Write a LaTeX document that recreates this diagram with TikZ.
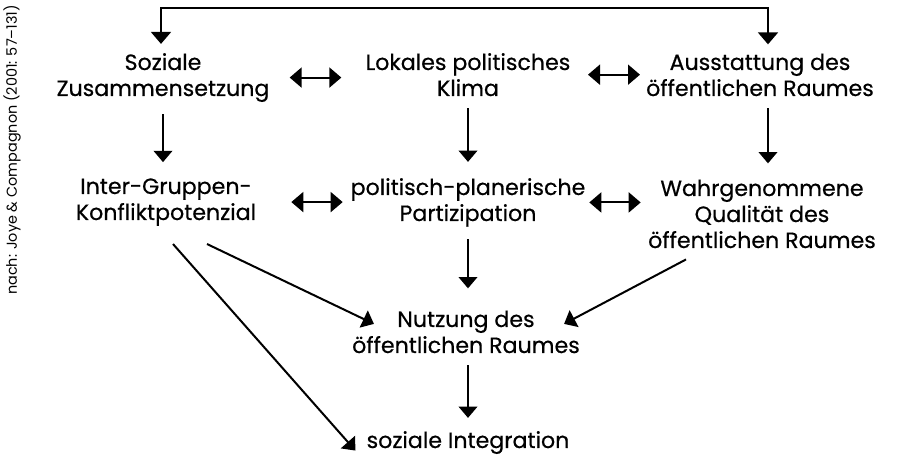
\documentclass[tikz,border=0pt]{standalone}
\usepackage{fontspec}
\setmainfont{Poppins}[FakeBold=0.5]
\newfontfamily\quellfont{Poppins}
\usetikzlibrary{arrows.meta, calc}

\begin{document}
\begin{tikzpicture}[
        x=0.75pt, y=-0.75pt,
        lbl/.style={align=center, inner sep=0pt, anchor=base,
                    font=\fontsize{16.6}{19.5}\selectfont},
        src/.style={inner sep=0pt, rotate=90, font=\quellfont\fontsize{10.8}{12}\selectfont},
        arr/.style={-{Triangle[length=8.5pt, width=14pt]}, line width=1.5pt},
        dbl/.style={{Triangle[length=9pt, width=15pt]}-{Triangle[length=9pt, width=15pt]},
                    line width=1.5pt},
        vert/.style={arr, shorten <=9pt, shorten >=12pt}
      ]
      \useasboundingbox (0,0) rectangle (897,459);
      \node[src] (quelle) at (12,150) {nach: Joye \& Compagnon (2001: 57–131)};
      % Knoten (Basislinie der letzten Zeile)
      \node[lbl] (soz) at (163,96) {Soziale\\Zusammensetzung};
      \node[lbl] (lok) at (468,96) {Lokales politisches\\Klima};
      \node[lbl] (aus) at (760,96) {Ausstattung des\\öffentlichen Raumes};
      \node[lbl] (igk) at (166,220) {Inter-Gruppen-\\Konfliktpotenzial};
      \node[lbl] (pol) at (468,221) {politisch-planerische\\Partizipation};
      \node[lbl] (wah) at (762,248) {Wahrgenommene\\Qualität des\\öffentlichen Raumes};
      \node[lbl] (nut) at (466,353) {Nutzung des\\öffentlichen Raumes};
      \node[lbl] (int) at (468,448) {soziale Integration};
      \coordinate (oben) at (465,8);
      % Rueckkopplung oben
      \draw[dbl, shorten <=6.75pt, shorten >=6.75pt]
            ([xshift=-1.5pt]soz.north) |- (oben) -| ([xshift=6pt]aus.north);
      % Wechselwirkungen
      \draw[dbl, shorten <=95pt, shorten >=95pt] (soz.center) -- (soz.center -| lok.center);
      \draw[dbl, shorten <=90pt, shorten >=90pt] (lok.center) -- (lok.center -| aus.center);
      \draw[dbl, shorten <=94pt, shorten >=94pt] (igk.center) -- (igk.center -| pol.center);
      \draw[dbl, shorten <=91pt, shorten >=91pt] (pol.center) -- (pol.center -| wah.center);
      % Wirkungen
      \draw[vert] (soz.south) -- (soz.south |- igk.north);
      \draw[vert] (lok.south) -- (lok.south |- pol.north);
      \draw[vert] ([xshift=6pt]aus.south) -- ([xshift=6pt]aus.south |- wah.north);
      \draw[vert, shorten >=16.5pt] (pol.south) -- (pol.south |- nut.north);
      \draw[vert, shorten >=9.75pt] ([xshift=1.5pt]nut.south) -- ([xshift=1.5pt]nut.south |- int.north);
      \draw[arr] ($(igk.south)+(41,18)$) -- ($(nut.west)+(22,-8)$);
      \draw[arr] ($(igk.south)+(7,18)$) -- ($(int.west)+(-11,8)$);
      \draw[arr] ($(wah.south)+(-76,11)$) -- ($(nut.east)+(-16,-8)$);
    \end{tikzpicture}
\end{document}
